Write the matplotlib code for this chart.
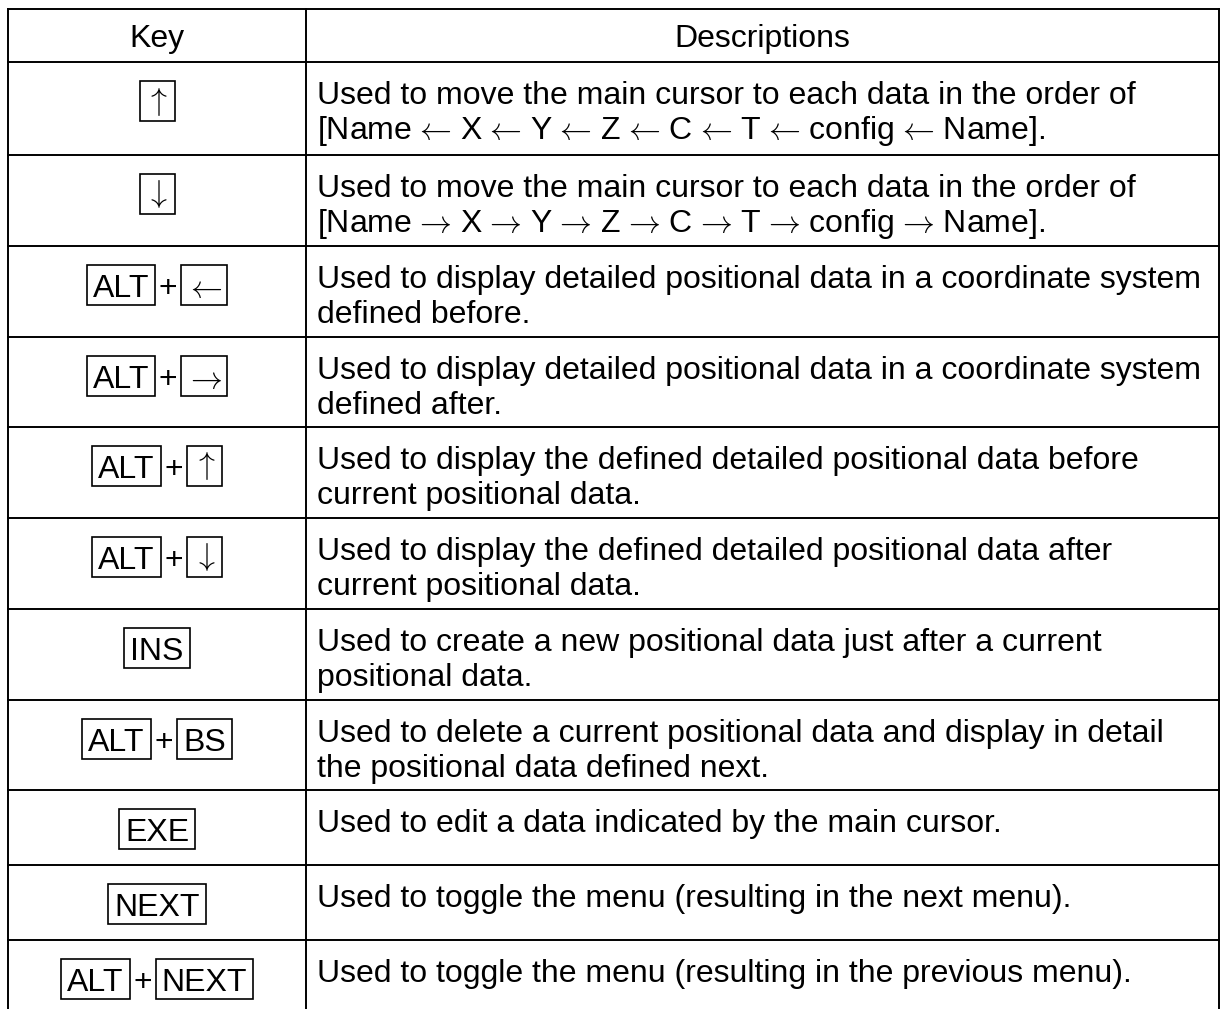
import matplotlib
matplotlib.use("Agg")
import matplotlib.pyplot as plt
from matplotlib.patches import Rectangle

plt.rcParams["mathtext.fontset"] = "cm"

# ---------------- data ----------------
header = ["Key", "Descriptions"]
keys = [
    ["↑"],
    ["↓"],
    ["ALT", "←"],
    ["ALT", "→"],
    ["ALT", "↑"],
    ["ALT", "↓"],
    ["INS"],
    ["ALT", "BS"],
    ["EXE"],
    ["NEXT"],
    ["ALT", "NEXT"],
]
descriptions = [
    "Used to move the main cursor to each data in the order of\n"
    "[Name ← X ← Y ← Z ← C ← T ← config ← Name].",
    "Used to move the main cursor to each data in the order of\n"
    "[Name → X → Y → Z → C → T → config → Name].",
    "Used to display detailed positional data in a coordinate system\n"
    "defined before.",
    "Used to display detailed positional data in a coordinate system\n"
    "defined after.",
    "Used to display the defined detailed positional data before\n"
    "current positional data.",
    "Used to display the defined detailed positional data after\n"
    "current positional data.",
    "Used to create a new positional data just after a current\n"
    "positional data.",
    "Used to delete a current positional data and display in detail\n"
    "the positional data defined next.",
    "Used to edit a data indicated by the main cursor.",
    "Used to toggle the menu (resulting in the next menu).",
    "Used to toggle the menu (resulting in the previous menu).",
]

# ---------------- helpers ----------------
ARROWS = {"←": r"\leftarrow", "→": r"\rightarrow",
          "↑": r"\uparrow", "↓": r"\downarrow"}


def render(s):
    # mathtext already spaces relation symbols; replace the plain spaces
    for k, v in ARROWS.items():
        s = s.replace(" " + k + " ", r"$\hspace{0.1}" + v + r"\hspace{0.1}$")
        s = s.replace(k, "$" + v + "$")
    return s


# ---------------- layout ----------------
W, H = 1222, 1009
FONT = ["Liberation Sans", "DejaVu Sans"]
FS = 23
LW = 1.4

fig = plt.figure(figsize=(W / 100, H / 100), dpi=100)
ax = fig.add_axes([0, 0, 1, 1])
ax.set_xlim(0, W)
ax.set_ylim(H, 0)
ax.axis("off")

x_left, x_mid, x_right = 8, 306, 1219
row_lines = [9, 62, 155, 246, 337, 427, 518, 609, 700, 790, 865, 940]

for y in row_lines:
    ax.plot([x_left, x_right], [y, y], color="black", lw=LW, solid_capstyle="projecting")
for x in (x_left, x_mid, x_right):
    ax.plot([x, x], [row_lines[0], H + 5], color="black", lw=LW, solid_capstyle="projecting")

key_cx = (x_left + x_mid) / 2
desc_cx = (x_mid + x_right) / 2

ax.text(key_cx, 47, header[0], ha="center", va="baseline", fontsize=FS, family=FONT)
ax.text(desc_cx, 47, header[1], ha="center", va="baseline", fontsize=FS, family=FONT)

# descriptions
for i, desc in enumerate(descriptions):
    top = row_lines[i + 1]
    for j, line in enumerate(desc.split("\n")):
        ax.text(317, top + 42 + j * 35, render(line), ha="left", va="baseline",
                fontsize=FS, family=FONT)

# keys: measure text widths first
fig.canvas.draw()
renderer = fig.canvas.get_renderer()


def text_width(s):
    t = ax.text(0, 0, render(s), fontsize=FS, family=FONT)
    w = t.get_window_extent(renderer).width
    t.remove()
    return w


PAD = 6
GAP = 26
for i, combo in enumerate(keys):
    top = row_lines[i + 1]
    widths = []
    for k in combo:
        if k in ("←", "→"):
            w = 46
        elif k in ("↑", "↓"):
            w = 35
        else:
            w = text_width(k) + 2 * PAD
        widths.append(w)
    total = sum(widths) + GAP * (len(combo) - 1)
    x = key_cx - total / 2
    for n, (k, w) in enumerate(zip(combo, widths)):
        ax.add_patch(Rectangle((x, top + 19), w, 40, fill=False,
                               edgecolor="black", lw=1.2))
        if k in ("↑", "↓"):
            ax.text(x + w / 2, top + 39, render(k), ha="center", va="center",
                    fontsize=FS, family=FONT)
        else:
            ax.text(x + w / 2, top + 51, render(k), ha="center", va="baseline",
                    fontsize=FS, family=FONT)
        x += w
        if n < len(combo) - 1:
            ax.text(x + GAP / 2, top + 51, "+", ha="center", va="baseline",
                    fontsize=FS, family=FONT)
            x += GAP

fig.savefig("out.png", dpi=100, facecolor="white")
